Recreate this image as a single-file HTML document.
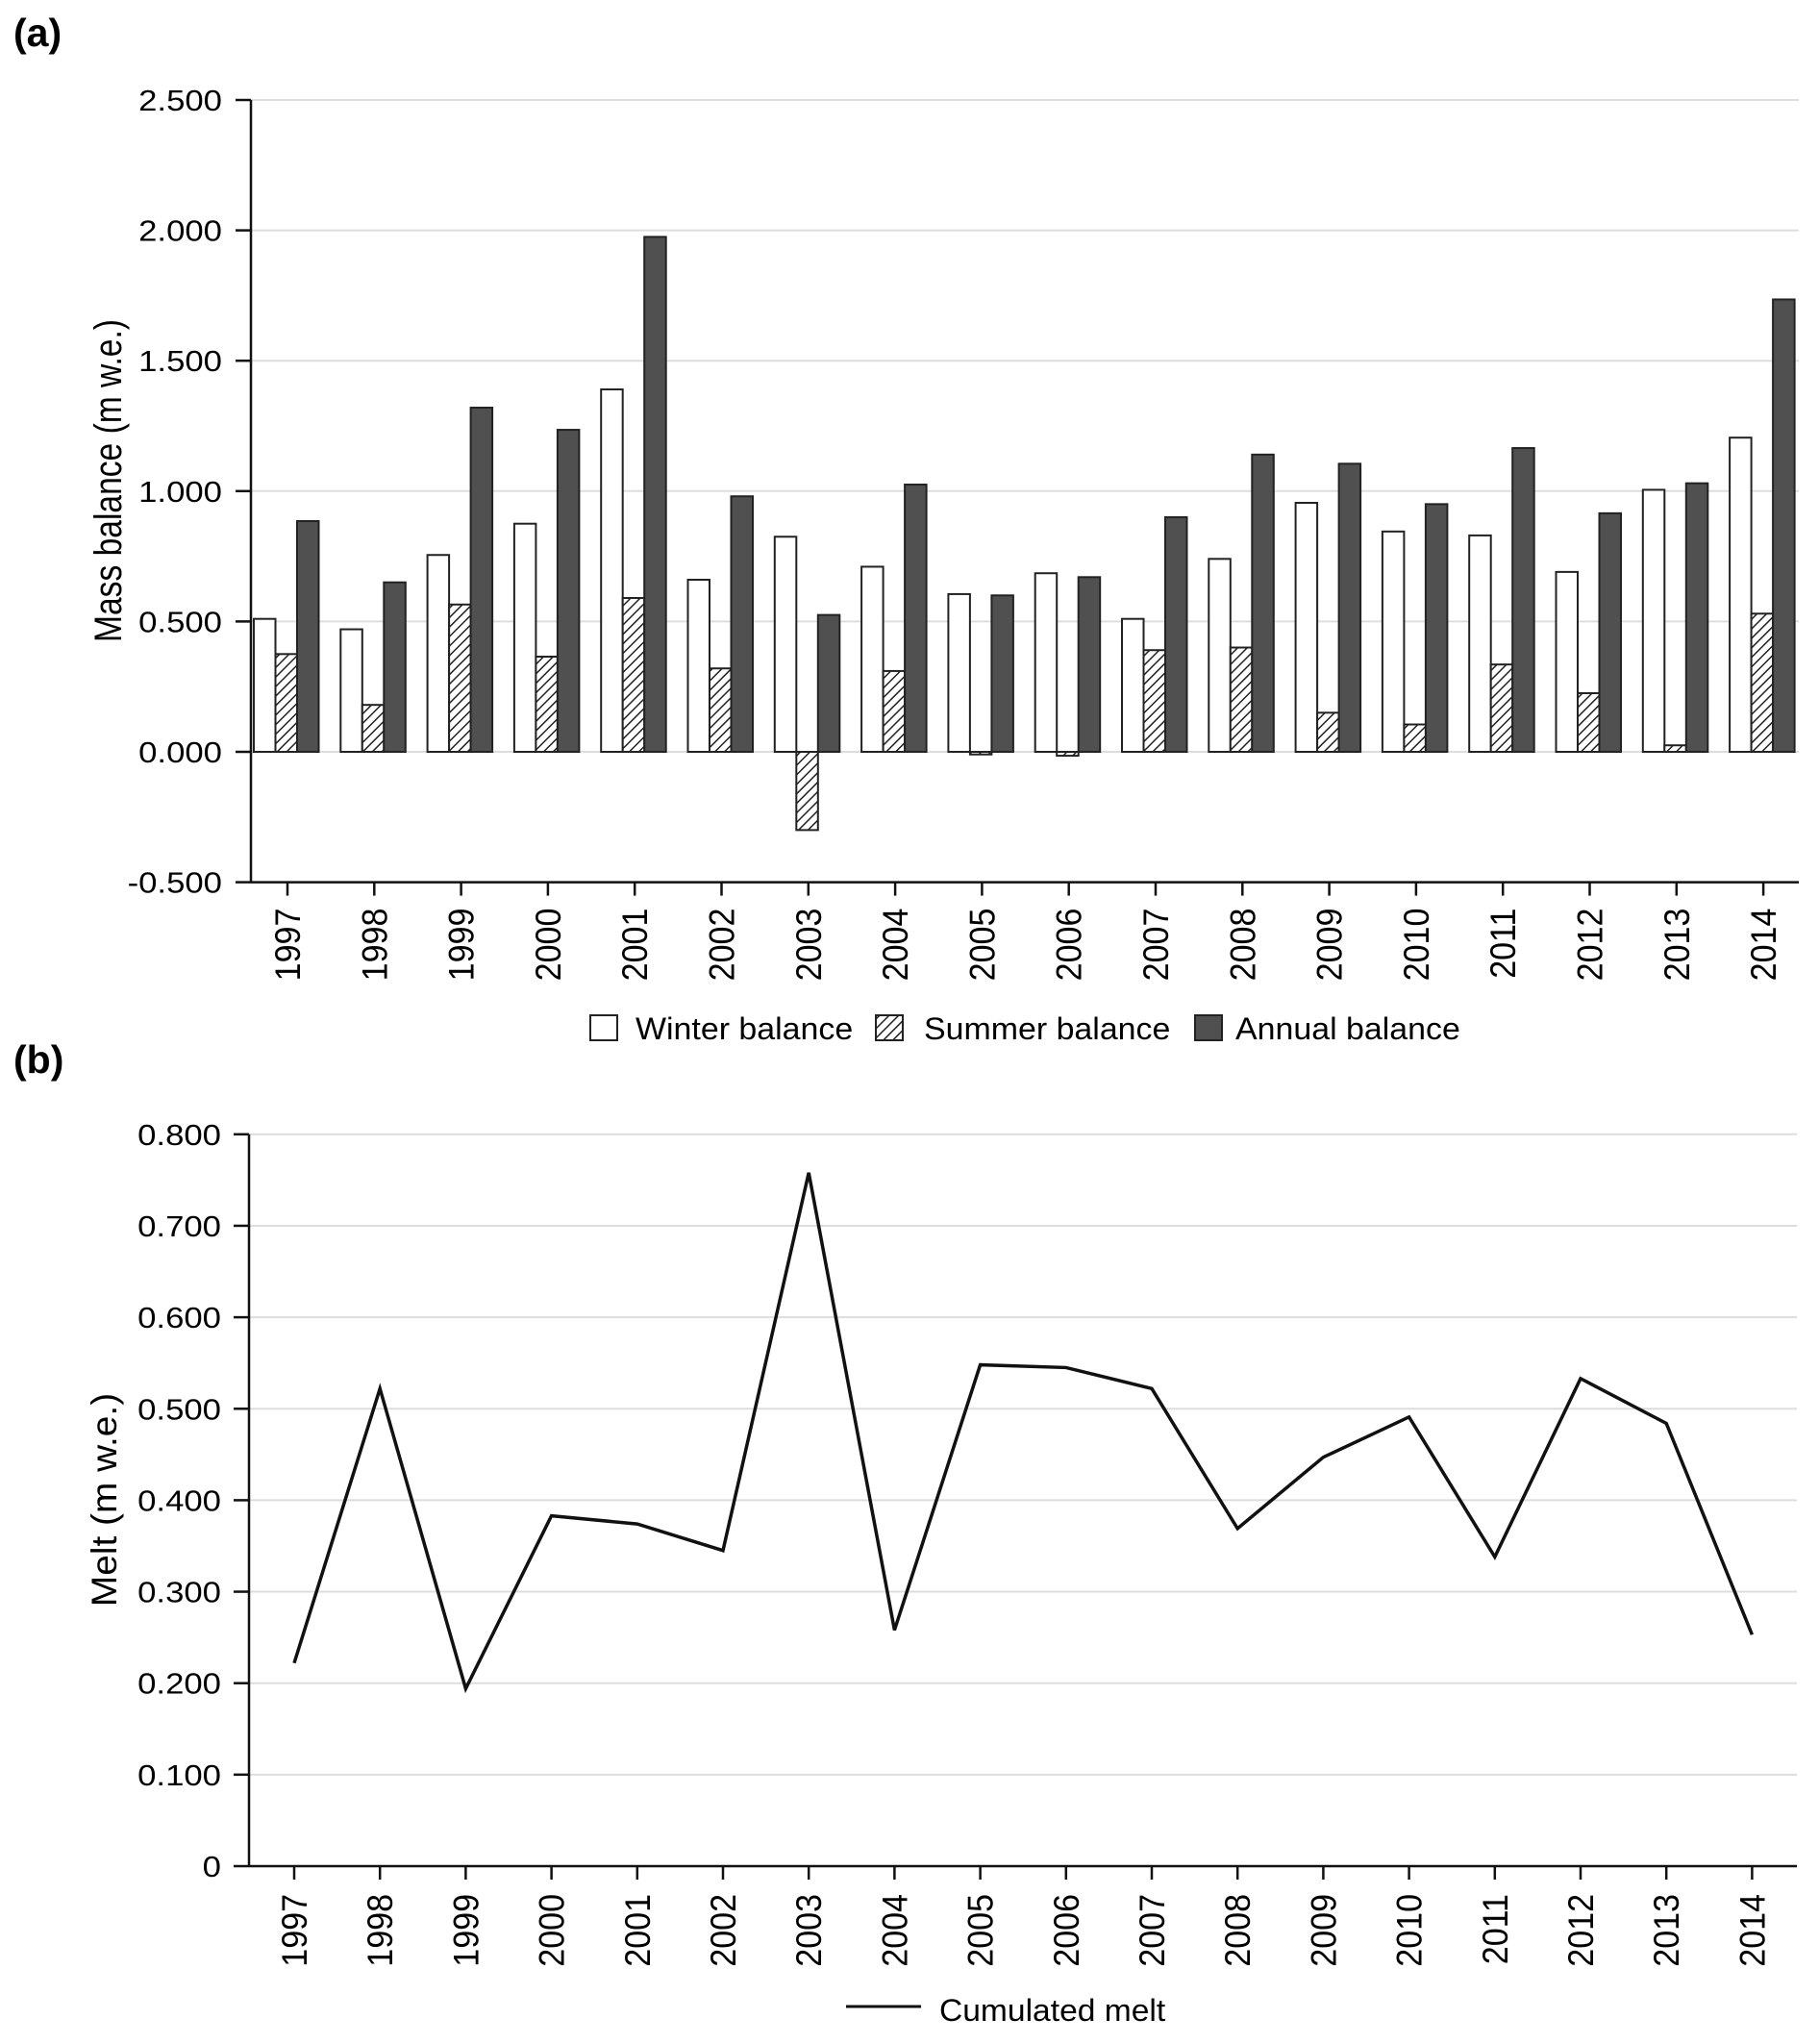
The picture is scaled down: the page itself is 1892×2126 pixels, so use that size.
<!DOCTYPE html>
<html><head><meta charset="utf-8"><style>
body{margin:0;background:#fff}
svg{display:block;font-family:"Liberation Sans",sans-serif}
</style></head><body>
<svg id="c" width="1892" height="2126" viewBox="0 0 1892 2126">
<defs><pattern id="hatch" patternUnits="userSpaceOnUse" width="7" height="7" patternTransform="rotate(45)"><rect width="7" height="7" fill="#fff"/><line x1="0" y1="0" x2="0" y2="7" stroke="#222" stroke-width="3"/></pattern></defs>
<text x="14" y="48" font-size="41" font-weight="bold">(a)</text>
<text x="14" y="1116" font-size="41" font-weight="bold">(b)</text>
<g id="ga"></g><g id="gb"></g>
<g>
<rect x="614" y="1056" width="28" height="26" fill="#fff" stroke="#222" stroke-width="2"/>
<text transform="translate(661,1081) scale(1.06,1)" font-size="32">Winter balance</text>
<rect x="911" y="1056" width="28" height="26" fill="url(#hatch)" stroke="#222" stroke-width="2"/>
<text transform="translate(961,1081) scale(1.06,1)" font-size="32">Summer balance</text>
<rect x="1243" y="1056" width="28" height="26" fill="#505050" stroke="#222" stroke-width="2"/>
<text transform="translate(1285,1081) scale(1.06,1)" font-size="32">Annual balance</text>
</g>
<g>
<line x1="880" y1="2087" x2="958" y2="2087" stroke="#111" stroke-width="3"/>
<text transform="translate(977,2102) scale(1.05,1)" font-size="32">Cumulated melt</text>
</g>
</svg>
<script>
const years=["1997","1998","1999","2000","2001","2002","2003","2004","2005","2006","2007","2008","2009","2010","2011","2012","2013","2014"];
const winter=[0.51,0.47,0.755,0.875,1.39,0.66,0.825,0.71,0.605,0.685,0.51,0.74,0.955,0.845,0.83,0.69,1.005,1.205];
const summer=[0.375,0.18,0.565,0.365,0.59,0.32,-0.30,0.31,-0.01,-0.015,0.39,0.40,0.15,0.105,0.335,0.225,0.025,0.53];
const annual=[0.885,0.65,1.32,1.235,1.975,0.98,0.525,1.025,0.60,0.67,0.90,1.14,1.105,0.95,1.165,0.915,1.03,1.735];
const ticksA=[-0.5,0,0.5,1,1.5,2,2.5];
const tickLabelsA=["-0.500","0.000","0.500","1.000","1.500","2.000","2.500"];
const melt=[0.222,0.522,0.194,0.383,0.374,0.345,0.758,0.258,0.548,0.545,0.522,0.369,0.447,0.491,0.338,0.533,0.484,0.253];
const ticksB=[0,0.1,0.2,0.3,0.4,0.5,0.6,0.7,0.8];
const tickLabelsB=["0","0.100","0.200","0.300","0.400","0.500","0.600","0.700","0.800"];
const NS="http://www.w3.org/2000/svg";
function mk(p,t,a,txt){const e=document.createElementNS(NS,t);for(const k in a)e.setAttribute(k,a[k]);if(txt!=null)e.textContent=txt;p.appendChild(e);return e;}
// Panel A
const ga=document.getElementById('ga');
const ya=v=>782-(v)*271.2;
const xa=i=>299+i*90.3;
ticksA.forEach((t,i)=>{
 if(t>-0.5){const g=mk(ga,'line',{x1:261,x2:1871,y1:ya(t),y2:ya(t),stroke:'#ddd','stroke-width':2});
 }
 const tk=mk(ga,'line',{x1:245,x2:261,y1:ya(t),y2:ya(t),stroke:'#111','stroke-width':2.5});
 
 const l=mk(ga,'text',{'font-size':31,'text-anchor':'end',transform:`translate(231,${ya(t)+11}) scale(1.12,1)`},tickLabelsA[i]);
 
});
years.forEach((y,i)=>{
 const c=xa(i);
 const w=mk(ga,'rect',{x:c-35,y:Math.min(ya(winter[i]),ya(0)),width:22.5,height:Math.abs(ya(winter[i])-ya(0)),fill:'#fff',stroke:'#222','stroke-width':2});
 
 const s=mk(ga,'rect',{x:c-12.5,y:Math.min(ya(summer[i]),ya(0)),width:22.5,height:Math.abs(ya(summer[i])-ya(0)),fill:'url(#hatch)',stroke:'#222','stroke-width':2});
 
 const a=mk(ga,'rect',{x:c+10,y:Math.min(ya(annual[i]),ya(0)),width:22.5,height:Math.abs(ya(annual[i])-ya(0)),fill:'#505050',stroke:'#222','stroke-width':2});
 
 const tk=mk(ga,'line',{x1:c,x2:c,y1:ya(-0.5),y2:ya(-0.5)+14,stroke:'#111','stroke-width':2.5});
 
 const l=mk(ga,'text',{'font-size':37,'text-anchor':'end',transform:`translate(${c+13},${ya(-0.5)+27}) rotate(-90) scale(0.92,1)`},y);
 
});
let ax=mk(ga,'line',{x1:261,x2:261,y1:ya(2.5),y2:ya(-0.5),stroke:'#111','stroke-width':2.5});

ax=mk(ga,'line',{x1:261,x2:1871,y1:ya(-0.5),y2:ya(-0.5),stroke:'#111','stroke-width':2.5});

let tt=mk(ga,'text',{'font-size':40,'text-anchor':'middle',transform:'translate(126,500) rotate(-90) scale(0.84,1)'},'Mass balance (m w.e.)');

// Panel B
const gb=document.getElementById('gb');
const yb=v=>1941-v*951.5;
const xb=i=>306+i*89.2;
ticksB.forEach((t,i)=>{
 if(t>0){const g=mk(gb,'line',{x1:259,x2:1869,y1:yb(t),y2:yb(t),stroke:'#ddd','stroke-width':2});
 }
 const tk=mk(gb,'line',{x1:243,x2:259,y1:yb(t),y2:yb(t),stroke:'#111','stroke-width':2.5});
 
 const l=mk(gb,'text',{'font-size':31,'text-anchor':'end',transform:`translate(230,${yb(t)+11}) scale(1.12,1)`},tickLabelsB[i]);
 
});
years.forEach((y,i)=>{
 const c=xb(i);
 const tk=mk(gb,'line',{x1:c,x2:c,y1:yb(0),y2:yb(0)+14,stroke:'#111','stroke-width':2.5});
 
 const l=mk(gb,'text',{'font-size':37,'text-anchor':'end',transform:`translate(${c+13},${yb(0)+29}) rotate(-90) scale(0.92,1)`},y);
 
});
const line=mk(gb,'polyline',{points:melt.map((v,i)=>xb(i)+','+yb(v)).join(' '),fill:'none',stroke:'#111','stroke-width':3.5,'stroke-linejoin':'miter'});

ax=mk(gb,'line',{x1:259,x2:259,y1:yb(0.8),y2:yb(0),stroke:'#111','stroke-width':2.5});

ax=mk(gb,'line',{x1:259,x2:1869,y1:yb(0),y2:yb(0),stroke:'#111','stroke-width':2.5});

tt=mk(gb,'text',{'font-size':37,'text-anchor':'middle',transform:'translate(121,1560) rotate(-90) scale(1.05,1)'},'Melt (m w.e.)');

</script>
</body></html>
